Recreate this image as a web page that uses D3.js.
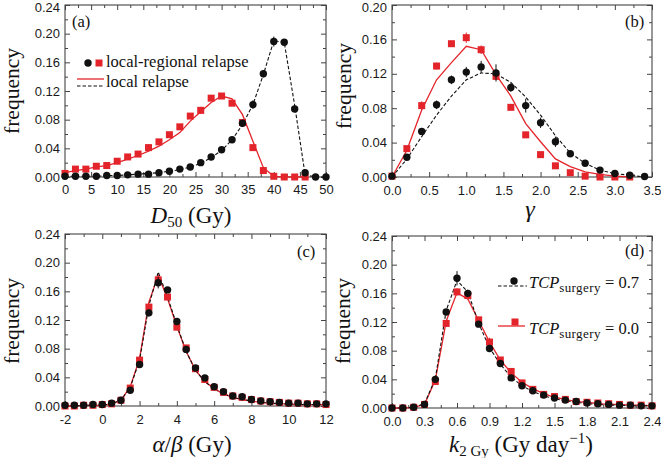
<!DOCTYPE html>
<html><head><meta charset="utf-8">
<script src="https://cdn.jsdelivr.net/npm/d3@7"></script>
<style>body{margin:0;background:#fff}svg{display:block}</style>
</head><body>
<svg id="chart" width="661" height="458"></svg>
<script>
// ---------------- DATA ----------------
// Panel (a): D50 (Gy)
const aXBlack = [0,2,4,6,8,10,12,14,16,18,20,22,24,26,28,30,32,34,36,38,40,42,44,46,48,50];
const aBlackPts = [0.001,0.001,0.001,0.001,0.002,0.002,0.003,0.004,0.004,0.006,0.008,0.011,0.014,0.020,0.028,0.038,0.052,0.075,0.101,0.144,0.189,0.188,0.095,0.006,0.000,0.000];
const aBlackErr = [0.001,0.001,0.001,0.001,0.001,0.001,0.001,0.001,0.001,0.002,0.002,0.002,0.002,0.002,0.002,0.002,0.003,0.003,0.006,0.005,0.007,0.004,0.005,0.002,0.001,0.001];
const aBlackLine = [0.001,0.001,0.001,0.001,0.002,0.002,0.003,0.004,0.005,0.006,0.008,0.010,0.014,0.019,0.027,0.037,0.052,0.073,0.101,0.143,0.190,0.188,0.100,0.003,0.000,0.000];
const aXRed = [0,2,4,6,8,10,12,14,16,18,20,22,24,26,28,30,32,34,36,38,40,42,44,46];
const aRedPts = [0.005,0.011,0.011,0.015,0.016,0.022,0.028,0.032,0.041,0.049,0.059,0.070,0.085,0.093,0.110,0.113,0.103,0.076,0.041,0.009,0.001,0.000,0.000,0.000];
const aRedErr = [0.002,0.002,0.002,0.002,0.002,0.002,0.002,0.002,0.005,0.003,0.003,0.003,0.003,0.005,0.004,0.003,0.003,0.003,0.003,0.002,0.001,0.001,0.001,0.001];
const aRedLine = [0.006,0.009,0.011,0.014,0.016,0.020,0.025,0.030,0.036,0.043,0.052,0.062,0.078,0.091,0.104,0.113,0.109,0.087,0.050,0.013,0.001,0.000,0.000,0.000];
const aXTicks = [0,5,10,15,20,25,30,35,40,45,50];
const aXLabels = ["0","5","10","15","20","25","30","35","40","45","50"];
const aYTicks = [0,0.04,0.08,0.12,0.16,0.20,0.24];
const aYLabels = ["0.00","0.04","0.08","0.12","0.16","0.20","0.24"];

// Panel (b): gamma
const bXBlack = [0,0.2,0.4,0.6,0.8,1.0,1.2,1.4,1.6,1.8,2.0,2.2,2.4,2.6,2.8,3.0,3.2,3.4];
const bBlackPts = [0.001,0.023,0.053,0.084,0.113,0.122,0.128,0.121,0.104,0.083,0.063,0.041,0.027,0.016,0.008,0.004,0.002,0.0005];
const bBlackErr = [0.001,0.003,0.004,0.005,0.005,0.006,0.007,0.010,0.005,0.008,0.006,0.006,0.003,0.002,0.002,0.001,0.001,0.001];
const bBlackLine = [0.000,0.021,0.047,0.072,0.094,0.113,0.121,0.120,0.110,0.093,0.072,0.048,0.028,0.016,0.008,0.004,0.002,0.000];
const bXRed = [0,0.2,0.4,0.6,0.8,1.0,1.2,1.4,1.6,1.8,2.0,2.2,2.4,2.6,2.8,3.0,3.2];
const bRedPts = [0.001,0.033,0.083,0.129,0.155,0.162,0.148,0.117,0.081,0.049,0.026,0.013,0.005,0.001,0.000,0.000,0.000];
const bRedErr = [0.001,0.003,0.005,0.004,0.003,0.006,0.005,0.004,0.003,0.002,0.002,0.001,0.001,0.001,0.001,0.001,0.001];
const bRedLine = [0.000,0.031,0.078,0.113,0.133,0.152,0.148,0.119,0.094,0.062,0.041,0.021,0.012,0.006,0.003,0.001,0.000];
const bXTicks = [0,0.5,1.0,1.5,2.0,2.5,3.0,3.5];
const bXLabels = ["0.0","0.5","1.0","1.5","2.0","2.5","3.0","3.5"];
const bYTicks = [0,0.04,0.08,0.12,0.16,0.20];
const bYLabels = ["0.00","0.04","0.08","0.12","0.16","0.20"];

// Panel (c): alpha/beta
const cX = [-2,-1.5,-1,-0.5,0,0.5,1,1.5,2,2.5,3,3.5,4,4.5,5,5.5,6,6.5,7,7.5,8,8.5,9,9.5,10,10.5,11,11.5,12];
const cBlackPts = [0.001,0.001,0.001,0.002,0.002,0.004,0.008,0.022,0.058,0.130,0.172,0.162,0.118,0.079,0.053,0.039,0.027,0.020,0.014,0.013,0.009,0.007,0.006,0.005,0.004,0.004,0.003,0.003,0.003];
const cBlackErr = [0.001,0.001,0.001,0.001,0.001,0.001,0.002,0.003,0.004,0.005,0.008,0.004,0.004,0.003,0.003,0.003,0.002,0.002,0.002,0.002,0.001,0.001,0.001,0.001,0.001,0.001,0.001,0.001,0.001];
const cBlackLine = [0.000,0.000,0.001,0.001,0.001,0.003,0.008,0.026,0.064,0.140,0.187,0.152,0.113,0.076,0.050,0.034,0.024,0.017,0.012,0.009,0.007,0.005,0.004,0.003,0.003,0.002,0.002,0.002,0.002];
const cRedPts = [0.000,0.000,0.001,0.001,0.002,0.003,0.008,0.025,0.064,0.138,0.176,0.152,0.110,0.081,0.052,0.037,0.026,0.019,0.014,0.012,0.009,0.007,0.006,0.005,0.004,0.004,0.003,0.003,0.002];
const cRedErr = [0.001,0.001,0.001,0.001,0.001,0.001,0.002,0.003,0.004,0.005,0.006,0.004,0.004,0.003,0.003,0.002,0.002,0.002,0.002,0.001,0.001,0.001,0.001,0.001,0.001,0.001,0.001,0.001,0.001];
const cRedLine = [0.000,0.000,0.001,0.001,0.001,0.003,0.008,0.027,0.066,0.145,0.182,0.150,0.111,0.076,0.050,0.034,0.024,0.017,0.012,0.009,0.007,0.005,0.004,0.003,0.003,0.002,0.002,0.002,0.002];
const cXTicks = [-2,0,2,4,6,8,10,12];
const cXLabels = ["-2","0","2","4","6","8","10","12"];
const cYTicks = [0,0.04,0.08,0.12,0.16,0.20,0.24];
const cYLabels = ["0.00","0.04","0.08","0.12","0.16","0.20","0.24"];

// Panel (d): k_2Gy
const dX = [0,0.1,0.2,0.3,0.4,0.5,0.6,0.7,0.8,0.9,1.0,1.1,1.2,1.3,1.4,1.5,1.6,1.7,1.8,1.9,2.0,2.1,2.2,2.3,2.4];
const dBlackPts = [0.000,0.000,0.001,0.005,0.040,0.134,0.181,0.160,0.117,0.083,0.062,0.042,0.031,0.024,0.018,0.014,0.011,0.009,0.007,0.006,0.005,0.004,0.004,0.003,0.003];
const dBlackErr = [0.001,0.001,0.001,0.002,0.004,0.004,0.010,0.005,0.004,0.003,0.003,0.002,0.002,0.002,0.002,0.001,0.001,0.001,0.001,0.001,0.001,0.001,0.001,0.001,0.001];
const dBlackLine = [0.000,0.000,0.001,0.006,0.041,0.136,0.178,0.162,0.118,0.084,0.061,0.043,0.031,0.023,0.017,0.013,0.010,0.008,0.006,0.005,0.004,0.004,0.003,0.003,0.003];
const dRedPts = [0.000,0.000,0.001,0.005,0.037,0.118,0.162,0.157,0.123,0.092,0.067,0.051,0.035,0.026,0.019,0.016,0.012,0.009,0.008,0.007,0.006,0.005,0.004,0.004,0.003];
const dRedErr = [0.001,0.001,0.001,0.002,0.003,0.004,0.005,0.005,0.004,0.006,0.003,0.003,0.002,0.002,0.002,0.001,0.001,0.001,0.001,0.001,0.001,0.001,0.001,0.001,0.001];
const dRedLine = [0.000,0.000,0.001,0.005,0.039,0.121,0.161,0.152,0.122,0.092,0.067,0.049,0.036,0.027,0.020,0.015,0.012,0.009,0.008,0.006,0.005,0.005,0.004,0.004,0.003];
const dXTicks = [0,0.3,0.6,0.9,1.2,1.5,1.8,2.1,2.4];
const dXLabels = ["0.0","0.3","0.6","0.9","1.2","1.5","1.8","2.1","2.4"];
const dYTicks = [0,0.04,0.08,0.12,0.16,0.20,0.24];
const dYLabels = ["0.00","0.04","0.08","0.12","0.16","0.20","0.24"];

// ---------------- DRAWING ----------------
const RED = "#e3242b", BLACK = "#111";
const SERIF = "'Liberation Serif','Times New Roman',serif";
const SANS = "'Liberation Sans',Arial,sans-serif";
const svg = d3.select("#chart");

const panels = [
  {label:"(a)", box:[65,5,326,177], lab:[72,27], xPad:16.5,
   xDom:[0,50], xT:aXTicks, xL:aXLabels, yDom:[0,0.24], yT:aYTicks, yL:aYLabels,
   black:{x:aXBlack,p:aBlackPts,e:aBlackErr,l:aBlackLine}, red:{x:aXRed,p:aRedPts,e:aRedErr,l:aRedLine}},
  {label:"(b)", box:[392,5,652,177], lab:[625,27], xPad:18,
   xDom:[0,3.5], xT:bXTicks, xL:bXLabels, yDom:[0,0.20], yT:bYTicks, yL:bYLabels,
   black:{x:bXBlack,p:bBlackPts,e:bBlackErr,l:bBlackLine}, red:{x:bXRed,p:bRedPts,e:bRedErr,l:bRedLine}},
  {label:"(c)", box:[65,234,326,406], lab:[297,257], xPad:18,
   xDom:[-2,12], xT:cXTicks, xL:cXLabels, yDom:[0,0.24], yT:cYTicks, yL:cYLabels,
   black:{x:cX,p:cBlackPts,e:cBlackErr,l:cBlackLine}, red:{x:cX,p:cRedPts,e:cRedErr,l:cRedLine}},
  {label:"(d)", box:[392,236,652,408], lab:[625,256], xPad:18,
   xDom:[0,2.4], xT:dXTicks, xL:dXLabels, yDom:[0,0.24], yT:dYTicks, yL:dYLabels,
   black:{x:dX,p:dBlackPts,e:dBlackErr,l:dBlackLine}, red:{x:dX,p:dRedPts,e:dRedErr,l:dRedLine}}
];

function mids(arr){ return d3.pairs(arr).map(([a,b])=>(a+b)/2); }

function styleAxis(g){
  g.select(".domain").remove();
  g.selectAll(".tick line").attr("stroke","#444").attr("stroke-width",1);
  g.selectAll("text").attr("fill","#1a1a1a").style("font-family",SANS).style("font-size","13px");
}

panels.forEach(P=>{
  const [x0,y0,x1,y1] = P.box;
  const x = d3.scaleLinear().domain(P.xDom).range([x0,x1]);
  const y = d3.scaleLinear().domain(P.yDom).range([y1,y0]);
  const g = svg.append("g");

  const xMin = mids(P.xT), yMin = mids(P.yT);
  // bottom
  g.append("g").attr("transform",`translate(0,${y1})`)
    .call(d3.axisBottom(x).tickValues(P.xT).tickSize(-5).tickPadding(P.xPad-9.2).tickFormat((d,i)=>P.xL[i])).call(styleAxis);
  g.append("g").attr("transform",`translate(0,${y1})`)
    .call(d3.axisBottom(x).tickValues(xMin).tickSize(-3).tickFormat("")).call(styleAxis);
  // top
  g.append("g").attr("transform",`translate(0,${y0})`)
    .call(d3.axisTop(x).tickValues(P.xT).tickSize(-5).tickFormat("")).call(styleAxis);
  g.append("g").attr("transform",`translate(0,${y0})`)
    .call(d3.axisTop(x).tickValues(xMin).tickSize(-3).tickFormat("")).call(styleAxis);
  // left
  const yl = g.append("g").attr("transform",`translate(${x0},0)`)
    .call(d3.axisLeft(y).tickValues(P.yT).tickSize(-5).tickPadding(5).tickFormat((d,i)=>P.yL[i])).call(styleAxis);
  // keep the top-most label fully inside the picture
  yl.selectAll(".tick text").filter(function(){
    const ty = +this.parentNode.getAttribute("transform").match(/,([\d.]+)\)/)[1];
    return ty < 9;
  }).attr("dy","0.52em");
  g.append("g").attr("transform",`translate(${x0},0)`)
    .call(d3.axisLeft(y).tickValues(yMin).tickSize(-3).tickFormat("")).call(styleAxis);
  // right
  g.append("g").attr("transform",`translate(${x1},0)`)
    .call(d3.axisRight(y).tickValues(P.yT).tickSize(-5).tickFormat("")).call(styleAxis);
  g.append("g").attr("transform",`translate(${x1},0)`)
    .call(d3.axisRight(y).tickValues(yMin).tickSize(-3).tickFormat("")).call(styleAxis);

  // frame
  g.append("rect").attr("x",x0).attr("y",y0).attr("width",x1-x0).attr("height",y1-y0)
    .attr("fill","none").attr("stroke","#444").attr("stroke-width",1.1);

  const line = d3.line().x(d=>x(d[0])).y(d=>y(d[1]));
  const R = P.red, B = P.black;
  g.append("path").attr("d",line(R.x.map((v,i)=>[v,R.l[i]])))
    .attr("fill","none").attr("stroke",RED).attr("stroke-width",1.3);
  g.append("path").attr("d",line(B.x.map((v,i)=>[v,B.l[i]])))
    .attr("fill","none").attr("stroke",BLACK).attr("stroke-width",1.1).attr("stroke-dasharray","3.5,2");

  // red squares with error bars
  R.x.forEach((v,i)=>{
    g.append("line").attr("x1",x(v)).attr("x2",x(v)).attr("y1",y(R.p[i]-R.e[i])).attr("y2",y(R.p[i]+R.e[i]))
      .attr("stroke",RED).attr("stroke-width",1);
  });
  g.selectAll(null).data(R.x.map((v,i)=>[v,R.p[i]])).join("rect")
    .attr("x",d=>x(d[0])-3.5).attr("y",d=>y(d[1])-3.5).attr("width",7).attr("height",7).attr("fill",RED);
  // black circles with error bars
  B.x.forEach((v,i)=>{
    g.append("line").attr("x1",x(v)).attr("x2",x(v)).attr("y1",y(B.p[i]-B.e[i])).attr("y2",y(B.p[i]+B.e[i]))
      .attr("stroke",BLACK).attr("stroke-width",1);
  });
  g.selectAll(null).data(B.x.map((v,i)=>[v,B.p[i]])).join("circle")
    .attr("cx",d=>x(d[0])).attr("cy",d=>y(d[1])).attr("r",3.7).attr("fill",BLACK);

  // panel label
  g.append("text").attr("x",P.lab[0]).attr("y",P.lab[1]).text(P.label)
    .style("font-family",SERIF).style("font-size","16.5px").attr("fill","#111");
});

// y-axis titles
[[19,91],[351,86],[19,321],[350,321]].forEach(([tx,ty])=>{
  svg.append("text").attr("transform",`translate(${tx},${ty}) rotate(-90)`).attr("text-anchor","middle")
    .style("font-family",SERIF).style("font-size","21.5px").attr("fill","#111").text("frequency");
});

// x-axis titles
function title(xc,yb){ return svg.append("text").attr("x",xc).attr("y",yb).attr("text-anchor","middle")
  .style("font-family",SERIF).style("font-size","23px").attr("fill","#111"); }
let t = title(191,223);
t.append("tspan").style("font-style","italic").text("D");
t.append("tspan").style("font-size","15px").attr("dy",4).text("50");
t.append("tspan").attr("dy",-4).text(" (Gy)");
t = title(530,217); t.style("font-size","24px");
t.append("tspan").style("font-style","italic").text("γ");
t = title(192,452);
t.append("tspan").style("font-style","italic").text("α");
t.append("tspan").text("/");
t.append("tspan").style("font-style","italic").text("β");
t.append("tspan").text(" (Gy)");
t = title(521,452);
t.append("tspan").style("font-style","italic").text("k");
t.append("tspan").style("font-size","15px").attr("dy",4).text("2 Gy");
t.append("tspan").attr("dy",-4).text(" (Gy day");
t.append("tspan").style("font-size","15px").attr("dy",-9).text("−1");
t.append("tspan").attr("dy",9).text(")");

// legend (a)
svg.append("circle").attr("cx",88).attr("cy",63).attr("r",3.7).attr("fill",BLACK);
svg.append("rect").attr("x",95.5).attr("y",59.5).attr("width",7).attr("height",7).attr("fill",RED);
svg.append("text").attr("x",106).attr("y",67).style("font-family",SERIF).style("font-size","16.5px").attr("fill","#111").text("local-regional relapse");
svg.append("line").attr("x1",77).attr("x2",104).attr("y1",79).attr("y2",79).attr("stroke",RED).attr("stroke-width",1.3);
svg.append("line").attr("x1",77).attr("x2",104).attr("y1",86).attr("y2",86).attr("stroke",BLACK).attr("stroke-width",1.1).attr("stroke-dasharray","3.5,2");
svg.append("text").attr("x",106).attr("y",87).style("font-family",SERIF).style("font-size","16.5px").attr("fill","#111").text("local relapse");

// legend (d)
svg.append("line").attr("x1",498).attr("x2",527).attr("y1",286).attr("y2",286).attr("stroke",BLACK).attr("stroke-width",1.1).attr("stroke-dasharray","3.5,2");
svg.append("circle").attr("cx",514).attr("cy",281).attr("r",3.7).attr("fill",BLACK);
svg.append("line").attr("x1",498).attr("x2",525).attr("y1",326).attr("y2",326).attr("stroke",RED).attr("stroke-width",1.3);
svg.append("rect").attr("x",511.5).attr("y",318.5).attr("width",7).attr("height",7).attr("fill",RED);
[[288,"0.7"],[334,"0.0"]].forEach(([yb,val])=>{
  const tt = svg.append("text").attr("x",529).attr("y",yb).style("font-family",SERIF).style("font-size","16.5px").attr("fill","#111");
  tt.append("tspan").style("font-style","italic").text("TCP");
  tt.append("tspan").style("font-size","13px").style("letter-spacing","0.4px").attr("dy",4).text("surgery");
  tt.append("tspan").attr("dy",-4).text(" = " + val);
});
</script>
</body></html>
